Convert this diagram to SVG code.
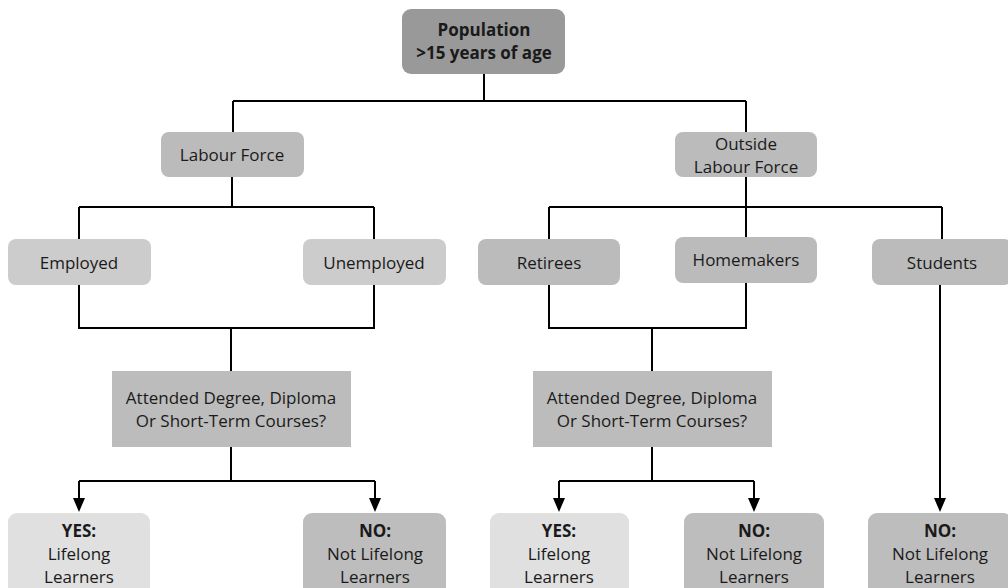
<svg xmlns="http://www.w3.org/2000/svg" width="1008" height="588" viewBox="0 0 1008 588">
<style>
text{font-family:"Open Sans","Liberation Sans",sans-serif;font-size:17px;fill:#1a1a1a;text-anchor:middle}
.b{font-weight:bold}
.c{fill:none;stroke:#000;stroke-width:2}
</style>
<rect width="1008" height="588" fill="#fff"/>
<g id="connectors">
<path class="c" d="M484,74 V101 M233,101 H746 M233,101 V132 M746,101 V132"/>
<path class="c" d="M232,177 V207 M79,207 H374 M79,207 V239 M374,207 V239"/>
<path class="c" d="M746,177 V237 M549,207 H942 M549,207 V239 M942,207 V239"/>
<path class="c" d="M79,285 V328 H374 V285 M231,328 V371"/>
<path class="c" d="M549,285 V328 H746 V283 M652,328 V371"/>
<path class="c" d="M231,447 V481 M79,481 H375"/>
<path class="c" d="M652,447 V481 M559,481 H754"/>
<path d="M73,498 L85,498 L79,512 Z M369,498 L381,498 L375,512 Z M553,498 L565,498 L559,512 Z M748,498 L760,498 L754,512 Z M934,498 L946,498 L940,512 Z" fill="#000"/>
<path class="c" d="M79,481 V499 M375,481 V499 M559,481 V499 M754,481 V499 M940,285 V499"/>
</g>
<g id="population"><rect x="402" y="9" width="163" height="65" rx="9" fill="#999"/><text class="b" x="484" y="36">Population</text><text class="b" x="484" y="59">&gt;15 years of age</text></g>
<g id="labour"><rect x="161" y="132" width="143" height="45" rx="8" fill="#bbb"/><text x="232" y="161">Labour Force</text></g>
<g id="outside"><rect x="675" y="132" width="142" height="45" rx="8" fill="#bbb"/><text x="746" y="150">Outside</text><text x="746" y="173">Labour Force</text></g>
<g id="employed"><rect x="8" y="239" width="143" height="46" rx="8" fill="#ccc"/><text x="79" y="269">Employed</text></g>
<g id="unemployed"><rect x="303" y="239" width="143" height="46" rx="8" fill="#ccc"/><text x="374" y="269">Unemployed</text></g>
<g id="retirees"><rect x="478" y="239" width="142" height="46" rx="8" fill="#bbb"/><text x="549" y="269">Retirees</text></g>
<g id="homemakers"><rect x="675" y="237" width="142" height="46" rx="8" fill="#bbb"/><text x="746" y="266">Homemakers</text></g>
<g id="students"><rect x="872" y="239" width="140" height="46" rx="8" fill="#bbb"/><text x="942" y="269">Students</text></g>
<g id="q1"><rect x="112" y="371" width="239" height="76" fill="#bcbcbc"/><text x="231" y="404">Attended Degree, Diploma</text><text x="231" y="427">Or Short-Term Courses?</text></g>
<g id="q2"><rect x="533" y="371" width="239" height="76" fill="#bcbcbc"/><text x="652" y="404">Attended Degree, Diploma</text><text x="652" y="427">Or Short-Term Courses?</text></g>
<g id="yes1"><rect x="8" y="513" width="142" height="90" rx="9" fill="#e0e0e0"/><text class="b" x="79" y="537">YES:</text><text x="79" y="560">Lifelong</text><text x="79" y="583">Learners</text></g>
<g id="no1"><rect x="303" y="513" width="143" height="90" rx="9" fill="#bdbdbd"/><text class="b" x="375" y="537">NO:</text><text x="375" y="560">Not Lifelong</text><text x="375" y="583">Learners</text></g>
<g id="yes2"><rect x="490" y="513" width="139" height="90" rx="9" fill="#e0e0e0"/><text class="b" x="559" y="537">YES:</text><text x="559" y="560">Lifelong</text><text x="559" y="583">Learners</text></g>
<g id="no2"><rect x="684" y="513" width="140" height="90" rx="9" fill="#bdbdbd"/><text class="b" x="754" y="537">NO:</text><text x="754" y="560">Not Lifelong</text><text x="754" y="583">Learners</text></g>
<g id="no3"><rect x="868" y="513" width="144" height="90" rx="9" fill="#bdbdbd"/><text class="b" x="940" y="537">NO:</text><text x="940" y="560">Not Lifelong</text><text x="940" y="583">Learners</text></g>
</svg>
